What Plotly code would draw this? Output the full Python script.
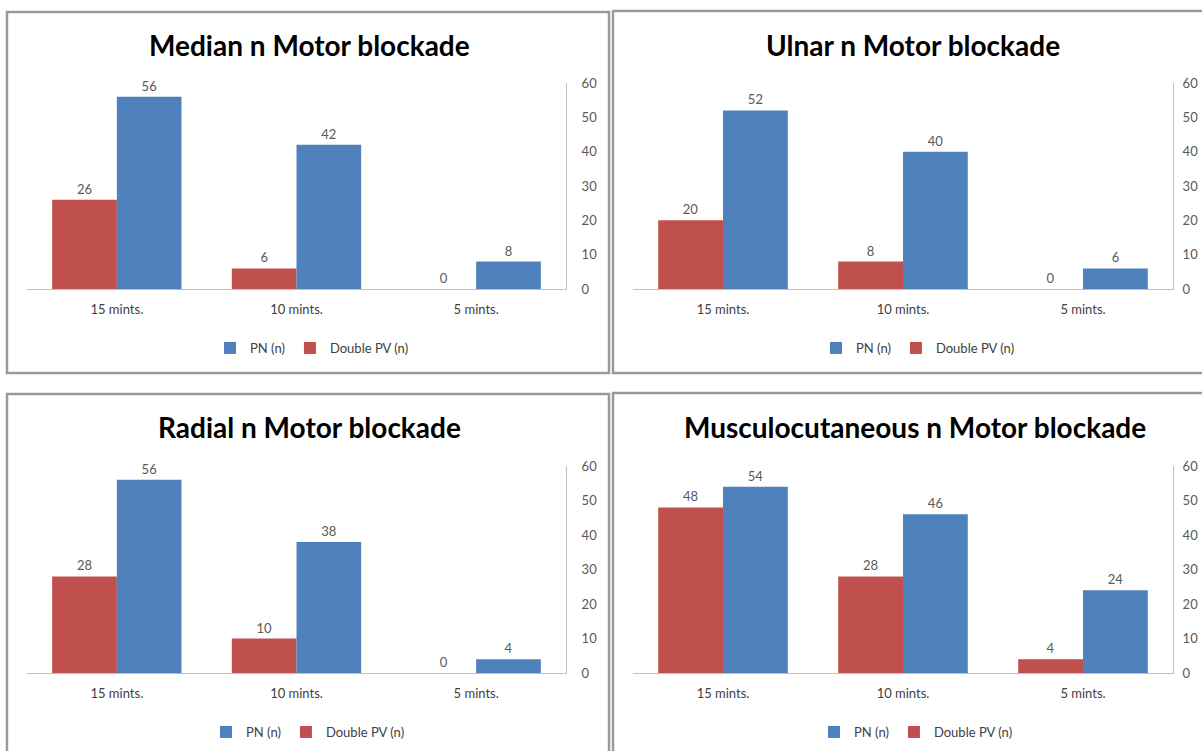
import plotly.graph_objects as go

categories = ["15 mints.", "10 mints.", "5 mints."]
titles = ["Median n Motor blockade", "Ulnar n Motor blockade",
          "Radial n Motor blockade", "Musculocutaneous n Motor blockade"]
pn_median = [56, 42, 8]
dpv_median = [26, 6, 0]
pn_ulnar = [52, 40, 6]
dpv_ulnar = [20, 8, 0]
pn_radial = [56, 38, 4]
dpv_radial = [28, 10, 0]
pn_musc = [54, 46, 24]
dpv_musc = [48, 28, 4]
y_ticks = [0, 10, 20, 30, 40, 50, 60]

W, H = 1202, 751
RED = "#C0504D"
BLUE = "#4F81BD"
GREY = "#595959"
DARK = "#404040"
FONT = "Lato"


def px(x):
    return x / W


def py(y):
    return 1 - y / H


panels = [
    # (pn, dpv, x0, x1, ybase, ytop, title_x, title_y, legend_x, legend_y, ytick_standoff)
    (pn_median, dpv_median, 27, 566, 289, 83, 309, 45, 312, 348, 12),
    (pn_ulnar, dpv_ulnar, 633, 1173, 289, 83, 913, 45, 918, 348, 6),
    (pn_radial, dpv_radial, 27, 566, 673, 466, 309, 427, 308, 732, 12),
    (pn_musc, dpv_musc, 633, 1173, 673, 466, 915, 427, 916, 732, 6),
]

fig = go.Figure()
annotations = []
layout_extra = {}
for i, (pn, dpv, x0, x1, yb, yt, tx, ty, lx, ly, ysd) in enumerate(panels):
    n = i + 1
    xa = "x" if n == 1 else f"x{n}"
    ya = "y" if n == 1 else f"y{n}"
    lg = "legend" if n == 1 else f"legend{n}"
    fig.add_trace(go.Bar(
        x=categories, y=dpv, name="Double PV (n)", marker_color=RED,
        text=[str(v) for v in dpv], textposition="outside",
        textfont=dict(color=GREY, size=13, family=FONT),
        cliponaxis=False, xaxis=xa, yaxis=ya, legend=lg, legendrank=2,
        marker_line_width=0, hoverinfo="skip",
    ))
    fig.add_trace(go.Bar(
        x=categories, y=pn, name="PN (n)", marker_color=BLUE,
        text=[str(v) for v in pn], textposition="outside",
        textfont=dict(color=GREY, size=13, family=FONT),
        cliponaxis=False, xaxis=xa, yaxis=ya, legend=lg, legendrank=1,
        marker_line_width=0, hoverinfo="skip",
    ))
    xkey = "xaxis" if n == 1 else f"xaxis{n}"
    ykey = "yaxis" if n == 1 else f"yaxis{n}"
    layout_extra[xkey] = dict(
        domain=[px(x0), px(x1)], anchor=ya, showline=True, linecolor="#BFBFBF",
        linewidth=1, showgrid=False, ticks="", automargin=False,
        tickfont=dict(color=DARK, size=13, family=FONT), fixedrange=True,
        ticklabelstandoff=8,
    )
    layout_extra[ykey] = dict(
        domain=[py(yb), py(yt)], anchor=xa, side="right", range=[0, 60],
        tickvals=y_ticks, showline=True, linecolor="#BFBFBF", linewidth=1,
        showgrid=False, zeroline=False, ticks="", automargin=False,
        tickfont=dict(color=GREY, size=13, family=FONT), ticklabelstandoff=ysd,
        fixedrange=True,
    )
    layout_extra[lg] = dict(
        orientation="h", x=px(lx), y=py(ly), xanchor="center", yanchor="middle",
        font=dict(color=DARK, size=13, family=FONT), bgcolor="rgba(0,0,0,0)",
        itemwidth=30, tracegroupgap=0, traceorder="normal",
    )
    annotations.append(dict(
        text=f"<b>{titles[i]}</b>", x=px(tx), y=py(ty), xref="paper", yref="paper",
        showarrow=False, font=dict(size=28, color="#000000", family=FONT),
        xanchor="center", yanchor="middle",
    ))

shapes = []
for (x0, y0, x1, y1) in [(7, 12, 609, 373), (613, 11, 1215, 373),
                         (7, 394, 609, 770), (613, 393, 1215, 770)]:
    shapes.append(dict(type="rect", xref="paper", yref="paper",
                       x0=px(x0), x1=px(x1), y0=py(y1), y1=py(y0),
                       line=dict(color="#9A9A9A", width=2.5), layer="below"))

fig.update_layout(
    width=W, height=H, margin=dict(l=0, r=0, t=0, b=0, autoexpand=False),
    paper_bgcolor="white", plot_bgcolor="white",
    barmode="group", bargap=0.28, bargroupgap=0,
    showlegend=True, annotations=annotations, shapes=shapes,
    font=dict(family=FONT, color=GREY),
    **layout_extra,
)

fig.write_html(
    "out.html",
    config={"displayModeBar": False},
    post_script="document.body.style.margin='0px';document.body.style.overflow='hidden';",
)
